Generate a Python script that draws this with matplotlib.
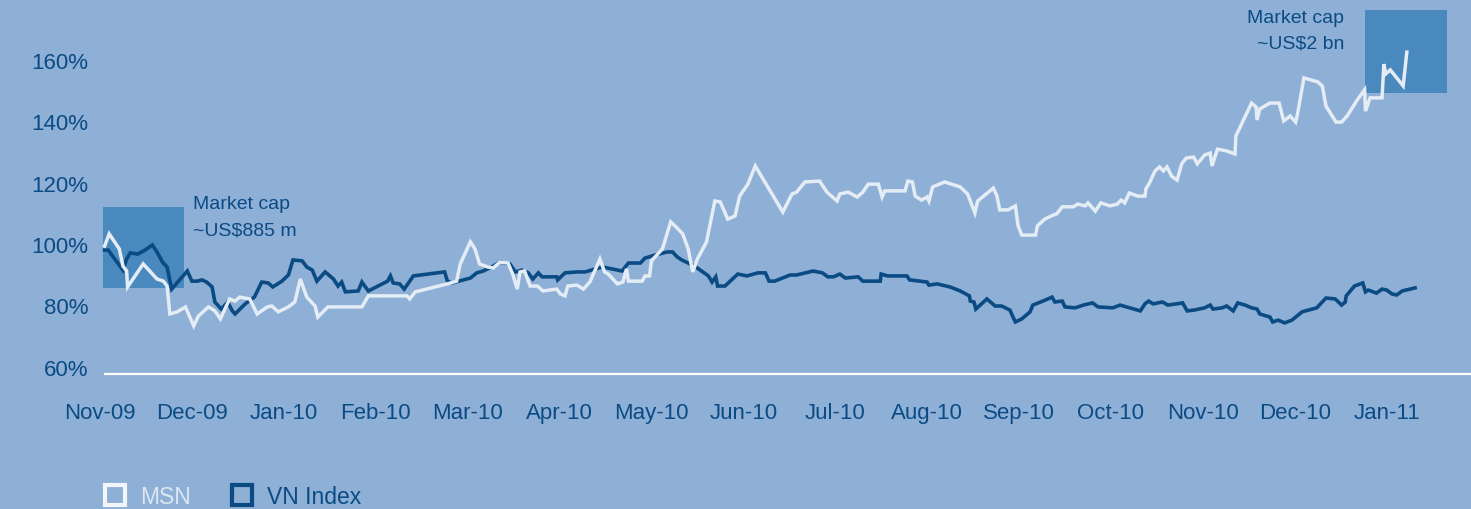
import matplotlib
matplotlib.use("Agg")
import matplotlib.pyplot as plt
from matplotlib.lines import Line2D

plt.rcParams['font.family'] = ['Liberation Sans', 'DejaVu Sans']

# x positions are in months after Nov-09 (tick labels sit on whole months)
months = ['Nov-09', 'Dec-09', 'Jan-10', 'Feb-10', 'Mar-10', 'Apr-10', 'May-10', 'Jun-10',
          'Jul-10', 'Aug-10', 'Sep-10', 'Oct-10', 'Nov-10', 'Dec-10', 'Jan-11']
y_ticks = [60, 80, 100, 120, 140, 160]

msn_x = [0.05, 0.10, 0.21, 0.25, 0.29, 0.30, 0.47, 0.62, 0.69, 0.73, 0.76, 0.84, 0.93, 1.02,
         1.07, 1.18, 1.25, 1.31, 1.41, 1.47, 1.52, 1.63, 1.71, 1.82, 1.87, 1.94, 2.05, 2.12,
         2.18, 2.25, 2.34, 2.37, 2.48, 2.85, 2.92, 3.34, 3.37, 3.43, 3.78, 3.88, 3.92, 4.03,
         4.08, 4.13, 4.22, 4.28, 4.35, 4.44, 4.49, 4.54, 4.57, 4.62, 4.68, 4.76, 4.82, 4.97,
         5.01, 5.06, 5.09, 5.19, 5.26, 5.33, 5.44, 5.49, 5.53, 5.63, 5.69, 5.73, 5.75, 5.90,
         5.93, 5.98, 6.00, 6.12, 6.21, 6.28, 6.34, 6.40, 6.45, 6.50, 6.60, 6.69, 6.75, 6.83,
         6.91, 6.96, 7.05, 7.13, 7.43, 7.53, 7.58, 7.67, 7.83, 7.91, 8.02, 8.05, 8.14, 8.24,
         8.30, 8.36, 8.47, 8.51, 8.54, 8.76, 8.79, 8.84, 8.87, 8.94, 9.00, 9.02, 9.06, 9.19,
         9.36, 9.44, 9.52, 9.55, 9.72, 9.76, 9.79, 9.88, 9.96, 9.99, 10.03, 10.18, 10.20,
         10.28, 10.37, 10.41, 10.47, 10.59, 10.64, 10.72, 10.75, 10.83, 10.89, 10.99, 11.07,
         11.11, 11.15, 11.20, 11.29, 11.37, 11.38, 11.42, 11.48, 11.53, 11.57, 11.61, 11.66,
         11.72, 11.77, 11.82, 11.90, 11.94, 12.02, 12.08, 12.10, 12.16, 12.26, 12.35, 12.36,
         12.53, 12.58, 12.59, 12.62, 12.73, 12.83, 12.88, 12.95, 13.01, 13.03, 13.10, 13.25,
         13.30, 13.34, 13.45, 13.51, 13.57, 13.68, 13.76, 13.77, 13.82, 13.95, 13.97, 13.99,
         14.04, 14.18, 14.20, 14.22]
msn_y = [99.3, 103.3, 98.4, 92.8, 91.2, 86.0, 93.5, 88.6, 87.9, 86.3, 77.2, 77.9, 79.5, 73.3,
         76.5, 79.5, 78.2, 75.6, 82.1, 81.4, 82.7, 82.1, 77.2, 79.5, 79.8, 77.9, 79.5, 81.1,
         88.6, 82.7, 79.8, 76.2, 79.5, 79.5, 83.1, 83.1, 82.1, 84.4, 87.0, 87.9, 93.5, 100.7,
         98.4, 93.5, 92.5, 92.2, 94.1, 93.8, 90.2, 85.3, 90.9, 91.2, 86.3, 86.3, 84.7, 85.3,
         83.7, 83.1, 86.3, 86.6, 85.3, 87.6, 95.1, 90.9, 90.2, 87.0, 87.6, 91.9, 87.9, 87.9,
         89.6, 89.6, 94.5, 98.4, 107.2, 105.2, 103.3, 98.4, 90.9, 95.1, 100.7, 114.0, 113.7, 108.1,
         109.1, 115.6, 119.5, 125.4, 110.4, 116.3, 116.9, 120.2, 120.5, 116.9, 114.0, 116.3, 116.9, 115.3,
         116.9, 119.5, 119.5, 115.3, 117.3, 117.3, 120.5, 120.2, 115.6, 114.3, 115.3, 114.0, 118.6, 120.2,
         118.6, 116.3, 110.1, 114.0, 118.2, 115.6, 111.1, 111.1, 112.4, 105.9, 102.9, 102.9, 105.9,
         108.1, 109.4, 109.8, 112.1, 112.1, 113.0, 112.4, 113.4, 110.7, 113.4, 112.4, 113.0,
         114.3, 113.4, 116.6, 115.6, 115.6, 117.9, 119.9, 123.8, 125.1, 123.8, 125.1, 122.1,
         120.8, 126.1, 128.0, 128.3, 126.1, 129.0, 129.6, 125.4, 130.9, 130.3, 129.3, 135.2,
         145.9, 144.6, 140.4, 144.0, 145.9, 145.9, 140.1, 141.7, 139.7, 142.3, 154.1, 152.8,
         151.5, 144.9, 139.7, 139.7, 141.7, 146.9, 150.2, 143.3, 147.6, 147.6, 158.6, 155.4,
         156.7, 151.5, 157.0, 162.5]

vn_x = [0.05, 0.09, 0.16, 0.25, 0.29, 0.33, 0.41, 0.49, 0.57, 0.62, 0.68, 0.73, 0.78, 0.95,
        1.00, 1.06, 1.11, 1.16, 1.22, 1.25, 1.32, 1.39, 1.44, 1.47, 1.58, 1.68, 1.76, 1.83,
        1.88, 1.98, 2.05, 2.10, 2.20, 2.25, 2.31, 2.36, 2.45, 2.54, 2.59, 2.63, 2.67, 2.81,
        2.85, 2.92, 3.13, 3.16, 3.19, 3.26, 3.31, 3.41, 3.75, 3.78, 3.83, 4.03, 4.10, 4.17,
        4.28, 4.35, 4.46, 4.52, 4.59, 4.66, 4.71, 4.77, 4.81, 4.97, 4.98, 5.06, 5.19, 5.28,
        5.39, 5.47, 5.68, 5.75, 5.88, 5.93, 6.04, 6.17, 6.23, 6.28, 6.33, 6.40, 6.47, 6.56,
        6.62, 6.66, 6.70, 6.72, 6.80, 6.94, 7.04, 7.16, 7.24, 7.28, 7.34, 7.51, 7.58, 7.76,
        7.86, 7.92, 7.98, 8.05, 8.11, 8.25, 8.30, 8.49, 8.50, 8.57, 8.78, 8.81, 8.92, 9.00,
        9.02, 9.11, 9.25, 9.36, 9.46, 9.47, 9.51, 9.53, 9.65, 9.74, 9.81, 9.90, 9.96, 10.03,
        10.12, 10.15, 10.26, 10.36, 10.39, 10.47, 10.50, 10.61, 10.70, 10.80, 10.86, 11.02,
        11.10, 11.32, 11.37, 11.41, 11.46, 11.56, 11.62, 11.78, 11.83, 11.91, 12.02, 12.08,
        12.11, 12.21, 12.26, 12.33, 12.38, 12.46, 12.53, 12.59, 12.62, 12.73, 12.76, 12.82,
        12.89, 12.97, 13.08, 13.24, 13.34, 13.44, 13.51, 13.55, 13.56, 13.65, 13.74, 13.77,
        13.80, 13.89, 13.95, 14.00, 14.06, 14.11, 14.17, 14.31]
vn_y = [98.0, 98.0, 95.1, 91.5, 95.1, 97.1, 96.7, 98.0, 99.7, 97.4, 94.1, 92.5, 85.3, 91.2,
        87.9, 87.9, 88.3, 87.6, 86.0, 81.1, 78.8, 81.1, 78.2, 77.2, 80.5, 82.7, 87.6, 87.3,
        86.0, 87.9, 89.9, 94.8, 94.5, 92.5, 91.5, 87.9, 90.9, 88.6, 86.3, 87.6, 84.4, 84.7,
        87.6, 84.7, 87.9, 89.6, 87.3, 87.0, 85.3, 89.6, 90.9, 87.9, 87.3, 88.9, 90.6, 91.2,
        92.8, 94.1, 93.5, 90.9, 91.5, 90.6, 88.6, 90.6, 89.3, 89.3, 88.3, 90.6, 90.9, 90.9,
        91.9, 92.5, 91.2, 93.8, 93.8, 95.4, 96.4, 97.4, 97.4, 95.8, 94.8, 93.8, 92.8, 90.9,
        89.6, 87.6, 89.3, 86.3, 86.3, 90.2, 89.6, 90.6, 90.6, 87.9, 87.9, 89.9, 89.9, 91.2,
        90.6, 89.3, 89.3, 90.2, 88.9, 89.3, 87.9, 87.9, 90.2, 89.6, 89.6, 88.3, 87.9, 87.6,
        86.6, 87.0, 86.0, 84.7, 83.1, 81.4, 81.1, 78.8, 82.1, 79.8, 79.8, 78.5, 74.6, 75.6,
        77.9, 80.1, 81.4, 82.7, 81.1, 81.4, 79.5, 79.2, 80.1, 80.8, 79.5, 79.2,
        80.1, 78.2, 80.5, 81.4, 80.5, 81.1, 80.1, 80.8, 78.2, 78.5, 79.2, 80.1,
        78.8, 79.2, 79.8, 78.2, 80.8, 80.1, 79.2, 78.8, 77.2, 76.2, 74.6, 75.2,
        74.3, 75.2, 77.9, 79.2, 82.4, 82.1, 80.1, 81.1, 83.1, 86.3, 87.3, 84.4,
        85.0, 84.0, 85.3, 85.0, 83.7, 83.4, 84.7, 85.7]

# highlighted windows (month range, % range) and their notes
box_start = (0.03, 85.7, 0.88, 26.4)
box_end = (13.77, 149.2, 0.89, 27.0)

bg = '#8eafd6'
dark = '#0b4b84'
light = '#e4ecf5'
box_col = '#4a89be'

fig = plt.figure(figsize=(14.71, 5.10), dpi=100, facecolor=bg)
ax = fig.add_axes([0.0646, 0.2647, 0.9354, 0.7353])
ax.set_facecolor(bg)

for bx, by, bw, bh in [box_start, box_end]:
    ax.add_patch(plt.Rectangle((bx, by), bw, bh, color=box_col, lw=0, zorder=1))

ax.plot(vn_x, vn_y, color=dark, lw=2.6, zorder=3, solid_joinstyle='miter')
ax.plot(msn_x, msn_y, color=light, lw=2.5, zorder=4, solid_joinstyle='miter')

ax.text(1.01, 115.8, 'Market cap\n~US$885 m', color=dark, fontsize=14,
        ha='left', va='top', linespacing=1.7)
ax.text(13.54, 176.6, 'Market cap\n~US$2 bn', color=dark, fontsize=14,
        ha='right', va='top', linespacing=1.7, multialignment='right')

ax.set_xlim(-0.054, 14.918)
ax.set_ylim(57.65, 179.8)
ax.set_xticks(range(len(months)))
ax.set_xticklabels(months)
ax.set_yticks(y_ticks)
ax.set_yticklabels([f'{v}%' for v in y_ticks])
ax.tick_params(axis='both', length=0, labelsize=16, labelcolor=dark)
ax.tick_params(axis='x', pad=20)
ax.tick_params(axis='y', pad=5)

for s in ['top', 'right', 'left']:
    ax.spines[s].set_visible(False)
ax.spines['bottom'].set_color('white')
ax.spines['bottom'].set_linewidth(1.6)
ax.spines['bottom'].set_bounds(min(msn_x), 14.918)

handles = [
    Line2D([], [], ls='none', marker='s', ms=14, mew=3, mfc=bg, mec='#f2f6fa'),
    Line2D([], [], ls='none', marker='s', ms=14, mew=3, mfc=bg, mec=dark),
]
leg = fig.legend(handles, ['MSN', 'VN Index'], loc='lower left',
                 bbox_to_anchor=(0.055, -0.038), ncol=2, frameon=False,
                 fontsize=16.5, handletextpad=0.5, columnspacing=1.6, handlelength=1.2)
leg.get_texts()[0].set_color('#dce6f1')
leg.get_texts()[1].set_color(dark)

fig.savefig('out.png', dpi=100, facecolor=bg)
